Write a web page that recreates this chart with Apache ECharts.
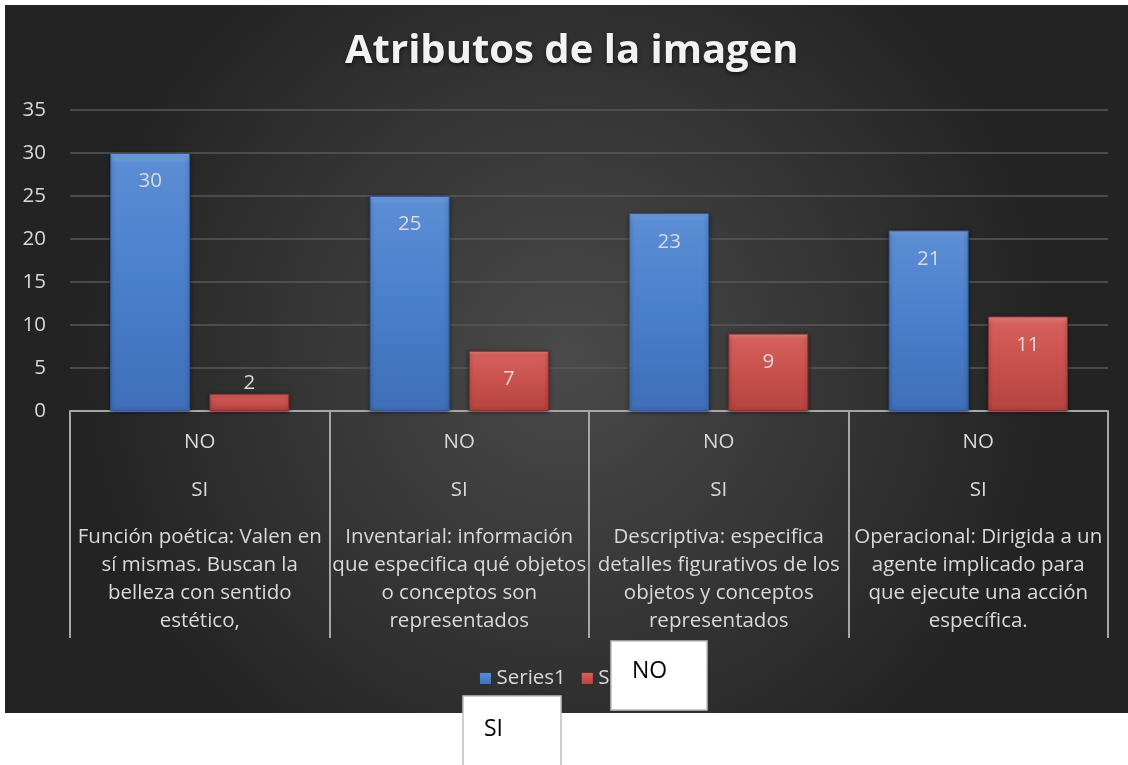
<!DOCTYPE html>
<html>
<head>
<meta charset="utf-8">
<script src="https://cdn.jsdelivr.net/npm/echarts@6/dist/echarts.min.js"></script>
<style>
  html, body { margin: 0; padding: 0; background: #fff; }
  #chart { width: 1128px; height: 765px; }
</style>
</head>
<body>
<div id="chart"></div>
<script>
// categorias (texto partido como en la imagen)
const categories = [
  'Función poética: Valen en\nsí mismas. Buscan la\nbelleza con sentido\nestético,',
  'Inventarial: información\nque especifica qué objetos\no conceptos son\nrepresentados',
  'Descriptiva: especifica\ndetalles figurativos de los\nobjetos y conceptos\nrepresentados',
  'Operacional: Dirigida a un\nagente implicado para\nque ejecute una acción\nespecífica.'
];
const levelLabels = ['NO', 'SI'];
const seriesNames = ['Series1', 'Series2'];
const series1 = [30, 25, 23, 21];
const series2 = [2, 7, 9, 11];
const yTicks = [0, 5, 10, 15, 20, 25, 30, 35];

const FONT = '"Open Sans"';
const FS = 20.5;
const myChart = echarts.init(document.getElementById('chart'));

const blueFill = new echarts.graphic.LinearGradient(0, 0, 0, 1, [
  { offset: 0, color: '#7aa7e3' },
  { offset: 0.04, color: '#5b8dd4' },
  { offset: 0.5, color: '#4a7fcb' },
  { offset: 1, color: '#3f6fb8' },
]);
const redFill = new echarts.graphic.LinearGradient(0, 0, 0, 1, [
  { offset: 0, color: '#f08a87' },
  { offset: 0.08, color: '#d65f5b' },
  { offset: 0.5, color: '#c9514d' },
  { offset: 1, color: '#b54440' },
]);

function labelFormatter(value) {
  const lines = value.split('\n').map(l => '{d|' + l + '}').join('\n');
  return '{a|' + levelLabels[0] + '}\n{a|' + levelLabels[1] + '}\n{g| }\n' + lines;
}

// cajas blancas que tapan la leyenda
const boxStroke = { fill: '#ffffff', stroke: '#bfbfbf', lineWidth: 1.5 };

const option = {
  backgroundColor: '#ffffff',
  animation: false,
  textStyle: { fontFamily: FONT },
  graphic: [
    {
      type: 'rect',
      z: -10,
      silent: true,
      shape: { x: 5, y: 5, width: 1123, height: 708 },
      style: {
        fill: new echarts.graphic.RadialGradient(0.5, 0.5, 0.7, [
          { offset: 0, color: '#4a4a4a' },
          { offset: 1, color: '#232323' },
        ]),
      },
    },
    {
      type: 'rect',
      z: 100,
      shape: { x: 611, y: 641, width: 96, height: 69 },
      style: boxStroke,
    },
    {
      type: 'text',
      z: 101,
      style: { x: 632, y: 671, text: levelLabels[0], fill: '#000', font: '23px ' + FONT, verticalAlign: 'middle' },
    },
    {
      type: 'rect',
      z: 100,
      shape: { x: 463, y: 696, width: 98, height: 75 },
      style: boxStroke,
    },
    {
      type: 'text',
      z: 101,
      style: { x: 484, y: 729, text: levelLabels[1], fill: '#000', font: '23px ' + FONT, verticalAlign: 'middle' },
    },
  ],
  title: {
    text: 'Atributos de la imagen',
    left: 340,
    top: 27,
    textStyle: {
      color: '#f2f2f2',
      fontSize: 40,
      fontWeight: 'bold',
      fontFamily: FONT,
      textShadowColor: 'rgba(0,0,0,0.6)',
      textShadowBlur: 4,
      textShadowOffsetY: 2,
    },
  },
  legend: {
    data: seriesNames,
    left: 474,
    top: 663,
    icon: 'rect',
    itemWidth: 12,
    itemHeight: 12,
    itemGap: 15,
    itemStyle: { borderColor: 'rgba(0,0,0,0.4)', borderWidth: 1 },
    textStyle: { color: '#d9d9d9', fontSize: FS, fontFamily: FONT },
  },
  grid: {
    left: 70,
    right: 20,
    top: 110,
    bottom: 354,
  },
  xAxis: {
    type: 'category',
    data: categories,
    axisLine: { lineStyle: { color: '#a6a6a6', width: 2 } },
    axisTick: { show: true, length: 227, interval: 0, lineStyle: { color: '#a6a6a6', width: 2 } },
    axisLabel: {
      interval: 0,
      margin: 7,
      formatter: labelFormatter,
      rich: {
        a: { color: '#d9d9d9', fontSize: FS, lineHeight: 48, fontFamily: FONT },
        g: { fontSize: 6, lineHeight: 9 },
        d: { color: '#d9d9d9', fontSize: FS, lineHeight: 28, fontFamily: FONT },
      },
    },
  },
  yAxis: {
    type: 'value',
    min: yTicks[0],
    max: yTicks[yTicks.length - 1],
    interval: yTicks[1] - yTicks[0],
    axisLine: { show: false },
    axisTick: { show: false },
    axisLabel: { color: '#d9d9d9', fontSize: FS, margin: 24, fontFamily: FONT },
    splitLine: { lineStyle: { color: '#595959', width: 1.5 } },
  },
  series: [
    {
      name: seriesNames[0],
      type: 'bar',
      barWidth: 80,
      barGap: '24%',
      data: series1,
      itemStyle: {
        color: blueFill,
        borderColor: '#2f5a9a',
        borderWidth: 1,
        shadowColor: 'rgba(0,0,0,0.5)',
        shadowBlur: 4,
        shadowOffsetY: 1,
      },
      label: {
        show: true,
        position: 'insideTop',
        distance: 18,
        color: '#d9d9d9',
        fontSize: FS,
        fontFamily: FONT,
      },
    },
    {
      name: seriesNames[1],
      type: 'bar',
      barWidth: 80,
      data: series2.map(v => v < 4 ? { value: v, label: { position: 'top', distance: 0 } } : v),
      itemStyle: {
        color: redFill,
        borderColor: '#8c2f2c',
        borderWidth: 1,
        shadowColor: 'rgba(0,0,0,0.5)',
        shadowBlur: 4,
        shadowOffsetY: 1,
      },
      label: {
        show: true,
        position: 'insideTop',
        distance: 18,
        color: '#d9d9d9',
        fontSize: FS,
        fontFamily: FONT,
      },
    },
  ],
};

myChart.setOption(option);
</script>
</body>
</html>
